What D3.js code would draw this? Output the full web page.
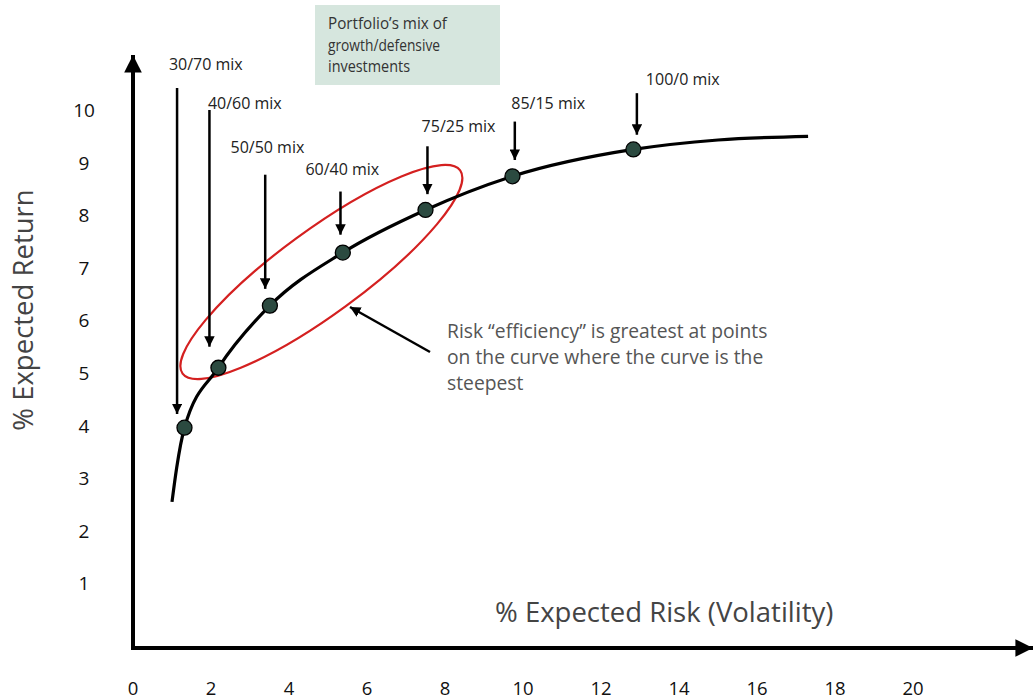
<!DOCTYPE html>
<html><head><meta charset="utf-8">
<script src="https://cdn.jsdelivr.net/npm/d3@7"></script>
<style>body{margin:0;background:#fff;}svg{display:block;}text{font-family:"Open Sans",sans-serif;}</style>
</head><body><svg id="c" width="1035" height="699"></svg>
<script>
// ---- data ----
const xTicks = [0,2,4,6,8,10,12,14,16,18,20];
const yTicks = [1,2,3,4,5,6,7,8,9,10];
const mixLabels = ["30/70 mix","40/60 mix","50/50 mix","60/40 mix","75/25 mix","85/15 mix","100/0 mix"];
const mixRisk   = [1.32, 2.19, 3.51, 5.38, 7.50, 9.73, 12.83];
const mixReturn = [3.96, 5.10, 6.28, 7.29, 8.10, 8.74, 9.25];
// label anchor (in data units) and arrow start (top of arrow) per mix
const labelRisk   = [0.92, 1.92, 2.5, 4.42, 7.4, 9.7, 13.15];
const labelReturn = [10.88, 10.15, 9.3, 8.89, 9.71, 10.15, 10.6];
const arrowRisk   = [1.13, 1.96, 3.39, 5.32, 7.55, 9.79, 12.92];
const arrowTop    = [10.42, 10.0, 8.77, 8.45, 9.31, 9.78, 10.32];
const arrowTip    = [4.22, 5.5, 6.6, 7.63, 8.4, 9.05, 9.53];
// frontier curve (extra points beyond the labelled mixes)
const curveRisk   = [1.0, 1.12, 1.32, 2.19, 3.51, 5.38, 7.50, 9.73, 12.83, 15.0, 17.31];
const curveReturn = [2.55, 3.2, 3.96, 5.10, 6.28, 7.29, 8.10, 8.74, 9.25, 9.43, 9.50];
const boxLines = ["Portfolio’s mix of","growth/defensive","investments"];
const boxWidths = [119, 112, 82];
const noteLines = ["Risk “efficiency” is greatest at points","on the curve where the curve is the","steepest"];

const svg = d3.select("#c");
const x = d3.scaleLinear().domain([0,20]).range([133,913]);
const y = d3.scaleLinear().domain([0,10]).range([636,110]);

const defs = svg.append("defs");
defs.append("marker").attr("id","ah").attr("viewBox","0 0 10 10").attr("refX",10).attr("refY",5)
  .attr("markerWidth",4.2).attr("markerHeight",4.2).attr("markerUnits","strokeWidth").attr("orient","auto")
  .append("path").attr("d","M0,0 L10,5 L0,10 Z").attr("fill","#000");
defs.append("marker").attr("id","ahBig").attr("viewBox","0 0 10 10").attr("refX",10).attr("refY",5)
  .attr("markerWidth",4.4).attr("markerHeight",4.4).attr("markerUnits","strokeWidth").attr("orient","auto")
  .append("path").attr("d","M0,0 L10,5 L0,10 Z").attr("fill","#000");

// axes
svg.append("path").attr("d",`M133,648 L133,55`).attr("stroke","#000").attr("stroke-width",4).attr("fill","none").attr("marker-end","url(#ahBig)");
svg.append("path").attr("d",`M131,648 L1033,648`).attr("stroke","#000").attr("stroke-width",4).attr("fill","none").attr("marker-end","url(#ahBig)");

// ticks labels
svg.append("g").selectAll("text").data(xTicks).join("text")
  .attr("x",d=>x(d)).attr("y",695).attr("text-anchor","middle").attr("font-size",18.5).attr("fill","#111").text(d=>d);
svg.append("g").selectAll("text").data(yTicks).join("text")
  .attr("x",84).attr("y",d=>y(d)+7).attr("text-anchor","middle").attr("font-size",19).attr("fill","#111").text(d=>d);

// axis titles
svg.append("text").attr("x",495).attr("y",622).attr("font-size",27.5).attr("fill","#444").text("% Expected Risk (Volatility)");
svg.append("text").attr("transform","translate(33,310) rotate(-90)").attr("text-anchor","middle").attr("font-size",27.5).attr("fill","#444").text("% Expected Return");

// ellipse (red)
const ec = [4.83, 6.92];
svg.append("ellipse").attr("cx",x(ec[0])).attr("cy",y(ec[1])).attr("rx",172).attr("ry",42)
  .attr("transform",`rotate(-36.2 ${x(ec[0])} ${y(ec[1])})`).attr("fill","none").attr("stroke","#d42020").attr("stroke-width",2.2);

// curve
const pts = curveRisk.map((r,i)=>[r,curveReturn[i]]);
svg.append("path").datum(pts).attr("d",d3.line().x(d=>x(d[0])).y(d=>y(d[1])).curve(d3.curveMonotoneX))
  .attr("fill","none").attr("stroke","#000").attr("stroke-width",3.2);

// points
svg.append("g").selectAll("circle").data(mixRisk).join("circle")
  .attr("cx",d=>x(d)).attr("cy",(d,i)=>y(mixReturn[i])).attr("r",7.5)
  .attr("fill","#2b4a40").attr("stroke","#000").attr("stroke-width",1.3);

// arrows
svg.append("g").selectAll("line").data(arrowRisk).join("line")
  .attr("x1",d=>x(d)).attr("x2",d=>x(d)).attr("y1",(d,i)=>y(arrowTop[i])).attr("y2",(d,i)=>y(arrowTip[i]))
  .attr("stroke","#000").attr("stroke-width",2.5).attr("marker-end","url(#ah)");

// labels
svg.append("g").selectAll("text").data(mixLabels).join("text")
  .attr("x",(d,i)=>x(labelRisk[i])).attr("y",(d,i)=>y(labelReturn[i])+6.5)
  .attr("font-size",16).attr("fill","#222").text(d=>d);

// box
svg.append("rect").attr("x",315).attr("y",5).attr("width",185).attr("height",80).attr("fill","#d6e6de");
svg.append("g").selectAll("text").data(boxLines).join("text")
  .attr("x",328).attr("y",(d,i)=>29+i*21.5).attr("font-size",16).attr("fill","#333")
  .attr("textLength",(d,i)=>boxWidths[i]).attr("lengthAdjust","spacingAndGlyphs").text(d=>d);

// note
svg.append("g").selectAll("text").data(noteLines).join("text")
  .attr("x",447).attr("y",(d,i)=>338+i*26).attr("font-size",19.3).attr("fill","#555").text(d=>d);
svg.append("line").attr("x1",430).attr("y1",352).attr("x2",350).attr("y2",307)
  .attr("stroke","#000").attr("stroke-width",2.5).attr("marker-end","url(#ah)");
</script></body></html>
